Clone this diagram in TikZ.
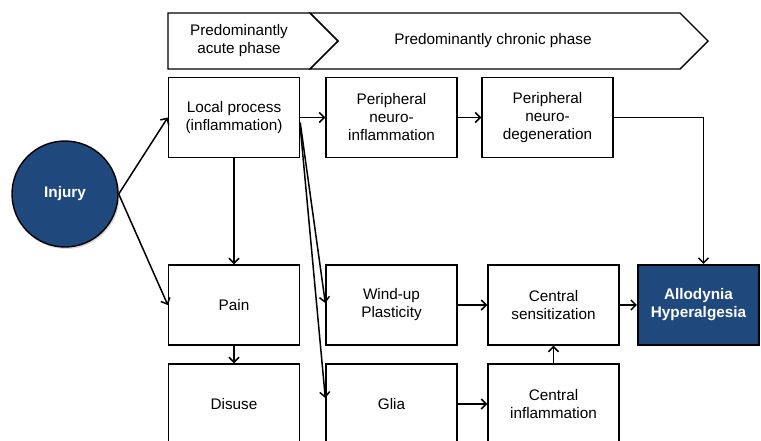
\documentclass[tikz,border=0pt]{standalone}
\usepackage{fontspec}
\setmainfont{Liberation Sans}
\usetikzlibrary{arrows.meta, shadows}
\definecolor{darkblue}{RGB}{31,73,125}

\begin{document}
\begin{tikzpicture}[x=1pt, y=-1pt, line width=1.5pt,
    >={Straight Barb[length=5pt, width=10pt]},
    txt/.style={align=center, font=\fontsize{15.3}{18}\selectfont},
    box/.style={txt, draw, line width=1.4pt, minimum width=131pt, minimum height=80pt, inner sep=2pt},
    dark/.style={fill=darkblue, text=white, font=\fontsize{15.3}{18}\selectfont\bfseries}]
      \useasboundingbox (0,0) rectangle (761,440);
      \clip (0,0) rectangle (761,440);

      \draw[line width=1.4pt] (168,13) -- (310,13) -- (338,41) -- (310,69) -- (168,69) -- cycle;
      \draw[line width=1.4pt] (310,13) -- (680,13) -- (708,41) -- (680,69) -- (310,69) -- (338,41) -- cycle;
      \node[txt] (acute) at (239,41) {Predominantly\\acute phase};
      \node[txt] (chronic) at (493,41) {Predominantly chronic phase};

      \node[circle, draw, dark, line width=1.4pt, minimum size=106pt,
        drop shadow={opacity=0.3, shadow xshift=1.5pt, shadow yshift=-2pt}] (injury) at (65,194) {Injury};

      \node[box] (local) at (234,117.5) {Local process\\(inflammation)};
      \node[box] (pni) at (391.5,117.5) {Peripheral\\neuro-\\inflammation};
      \node[box] (pnd) at (547.5,117.5) {Peripheral\\neuro-\\degeneration};
      \node[box] (pain) at (234,305) {Pain};
      \node[box] (disuse) at (234,404) {Disuse};
      \node[box] (windup) at (391.5,305) {Wind-up\\Plasticity};
      \node[box] (glia) at (391.5,404) {Glia};
      \node[box] (csens) at (553.5,305) {Central\\sensitization};
      \node[box] (cinfl) at (553.5,404) {Central\\inflammation};
      \node[box, dark, line width=2.2pt, minimum width=121pt] (allo) at (698.5,305) {Allodynia\\Hyperalgesia};

      \draw[->] (injury.east) -- (local.west);
      \draw[->] (injury.east) -- (pain.west);
      \draw[->] (local) -- (pni);
      \draw[->] (pni) -- (pnd);
      \draw[->] (pnd.east) -| ([xshift=5pt]allo.north);
      \draw[->] (local) -- (pain);
      \draw[->] (pain) -- (disuse);
      \draw[->] ([yshift=-5pt]local.east) -- ([yshift=2pt]windup.west);
      \draw[->] ([yshift=-9pt]local.east) -- ([yshift=6pt]glia.west);
      \draw[->] (windup) -- (csens);
      \draw[->] (glia) -- (cinfl);
      \draw[->] (cinfl) -- (csens);
      \draw[->] (csens) -- (allo);
\end{tikzpicture}
\end{document}
